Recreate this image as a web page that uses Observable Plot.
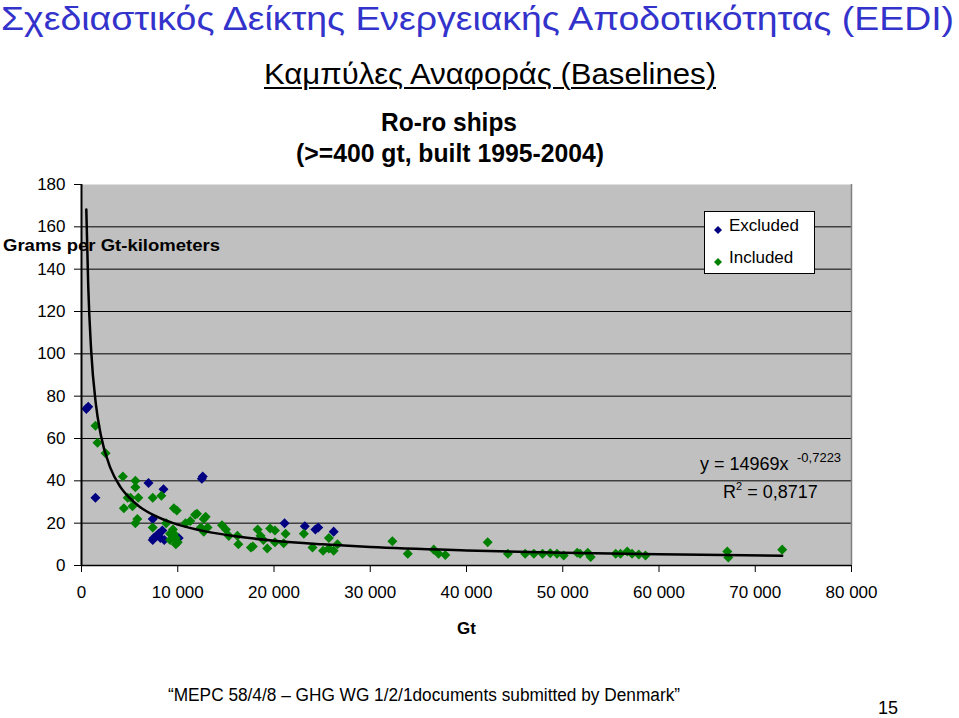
<!DOCTYPE html>
<html><head><meta charset="utf-8">
<script src="https://cdn.jsdelivr.net/npm/d3@7"></script>
<script src="https://cdn.jsdelivr.net/npm/@observablehq/plot@0.6"></script>
<style>
body{margin:0;background:#fff;font-family:"Liberation Sans",Arial,sans-serif;}
#page{position:relative;width:959px;height:718px;overflow:hidden;background:#fff;}
.abs{position:absolute;white-space:nowrap;line-height:1;transform-origin:0 0;}
#chart{position:absolute;left:0;top:100px;}
#legend{position:absolute;left:704px;top:211px;width:109px;height:61px;background:#fff;border:1px solid #000;}
</style></head><body><div id="page">
<div id="chart"></div>
<div id="title" class="abs" style="left:1px;top:4px;font-size:33px;line-height:0.9;color:#3333cc;">Σχεδιαστικός Δείκτης Ενεργειακής Αποδοτικότητας (EEDI)</div>
<div id="subtitle" class="abs" style="left:264px;top:59px;font-size:30px;color:#000;text-decoration:underline;text-decoration-thickness:2px;text-underline-offset:3px;">Καμπύλες Αναφοράς (Baselines)</div>
<div id="ct1" class="abs" style="left:381px;top:110px;font-size:25px;font-weight:bold;color:#000;">Ro-ro ships</div>
<div id="ct2" class="abs" style="left:296px;top:141px;font-size:25px;font-weight:bold;color:#000;">(&gt;=400 gt, built 1995-2004)</div>
<div id="ylab" class="abs" style="left:3px;top:236.5px;font-size:17px;font-weight:bold;color:#000;">Grams per Gt-kilometers</div>
<div id="xlab" class="abs" style="left:457px;top:620px;font-size:17px;font-weight:bold;color:#000;">Gt</div>
<div id="legend">
  <svg width="14" height="14" style="position:absolute;left:6px;top:11px"><path d="M7,3L11,7L7,11L3,7Z" fill="#000080"/></svg>
  <div class="abs" style="left:24px;top:5px;font-size:17px;">Excluded</div>
  <svg width="14" height="14" style="position:absolute;left:6px;top:43px"><path d="M7,3L11,7L7,11L3,7Z" fill="#008000"/></svg>
  <div class="abs" style="left:24px;top:37px;font-size:17px;">Included</div>
</div>
<div id="eq1" class="abs" style="left:700px;top:455px;font-size:18px;color:#000;">y = 14969x</div>
<div id="eq1s" class="abs" style="left:797px;top:451px;font-size:13px;color:#000;">-0,7223</div>
<div id="eq2" class="abs" style="left:723px;top:483px;font-size:18px;color:#000;">R<span style="font-size:11px;position:relative;top:-8px;">2</span> = 0,8717</div>
<div id="footer" class="abs" style="left:168px;top:686px;font-size:18px;color:#000;">“MEPC 58/4/8 – GHG WG 1/2/1documents submitted by Denmark”</div>
<div id="pnum" class="abs" style="left:878px;top:700px;font-size:18px;line-height:0.9;color:#000;">15</div>
</div>
<script>
// Data
const included = [
  [1450,66],[1660,58],[2500,53],
  [4300,42],[5600,40],[5600,37],[4800,32],[5100,32],[5900,32],[7400,32],[8300,33],
  [4400,27],[5300,28],[5800,22],[5600,20],[7400,18],[9200,15],[9600,27],[9900,26],
  [8800,20],[9600,15],[10000,11],[9800,13],[9200,12],[9500,17],[9800,10],
  [10800,20],[11300,21],[12000,24.5],[11800,24],[12900,23],[12400,18],[12700,16],[13100,18],[12700,22],
  [14600,19],[15000,17],[15300,14],[16200,14],[16300,10],[17600,8.5],[17800,9],
  [18300,17],[18600,14],[18900,12],[19300,8],[19600,17.5],[20100,16.5],[21200,15],
  [20100,11],[21000,10.5],[23100,15],[24000,8.5],[25100,7],[25700,13],[26200,7],[26600,10],[25700,8],
  [32300,11.5],[33900,5.5],[36600,7.5],[37100,5.5],[37800,5],[42200,11],
  [44300,5.5],[46100,5.5],[47000,5.5],[47900,5.5],[48700,5.8],[49400,5.5],[50100,4.7],[51500,6],[51800,5.5],[52600,6],[52900,4],
  [55500,5.5],[56000,5.5],[56700,6.6],[57200,5.5],[57900,5.2],[58600,4.7],[67100,6.6],[67200,3.8],[72800,7.5]
];
const excluded = [
  [500,74],[700,75],[1450,32],[6960,39],[8520,36],[12500,41],[12600,42],
  [7400,22],[7500,13],[8000,15],[8400,16.5],[8600,12],[7800,14],[7400,12],[8200,13],[10100,13],
  [21100,20],[23200,18.5],[24300,17],[24600,18],[26200,16]
];
const trendGt = [500,700,1000,1500,2000,3000,4000,5000,6000,8000,10000,13000,16000,20000,25000,30000,40000,50000,60000,72800];
const trendY  = [168.2,131.9,101.9,76.0,61.8,46.1,37.4,31.9,27.9,22.7,19.3,16.0,13.8,11.7,10.0,8.7,7.1,6.0,5.3,4.6];
const yTicks = [0,20,40,60,80,100,120,140,160,180];
const xTicks = [0,10000,20000,30000,40000,50000,60000,70000,80000];

const trend = trendGt.map((x,i)=>({x, y: trendY[i]}));
const inc = included.map(([x,y])=>({x,y}));
const exc = excluded.map(([x,y])=>({x,y}));
const diamond = {draw(ctx,size){const s=Math.sqrt(size/2);ctx.moveTo(0,-s);ctx.lineTo(s,0);ctx.lineTo(0,s);ctx.lineTo(-s,0);ctx.closePath();}};
const fmt = d => d3.format(",")(d).replace(/,/g," ");

const plot = Plot.plot({
  width: 959, height: 560,
  marginLeft: 81, marginRight: 108, marginTop: 84, marginBottom: 95,
  style: {fontFamily: "Liberation Sans, Arial, sans-serif", fontSize: "17px", background: "transparent", overflow: "visible"},
  x: {domain: [0, 80000]},
  y: {domain: [0, 180]},
  marks: [
    Plot.frame({fill: "#c0c0c0", stroke: null}),
    Plot.ruleY(yTicks.filter(d => d > 0 && d < 180), {stroke: "#000", strokeWidth: 1}),
    Plot.ruleX([80000], {stroke: "#808080", strokeWidth: 1.5}),
    Plot.axisY({ticks: yTicks, tickSize: 7, tickPadding: 9, fontSize: 17, label: null, tickFormat: d => d}),
    Plot.axisX({ticks: xTicks, tickSize: 7, tickPadding: 13, fontSize: 17, label: null, tickFormat: fmt}),
    Plot.dot(exc, {x: "x", y: "y", symbol: diamond, r: 4, fill: "#000080", stroke: null}),
    Plot.dot(inc, {x: "x", y: "y", symbol: diamond, r: 4, fill: "#008000", stroke: null}),
    Plot.line(trend, {x: "x", y: "y", stroke: "#000", strokeWidth: 2.5, curve: "monotone-x"}),
    Plot.ruleX([0], {stroke: "#000", strokeWidth: 2}),
    Plot.ruleY([0], {stroke: "#000", strokeWidth: 1.5})
  ]
});
document.getElementById("chart").appendChild(plot);

function fit(id, w){
  const el = document.getElementById(id);
  const r = el.getBoundingClientRect().width;
  if (r > 0) el.style.transform = `scaleX(${w / r})`;
}
fit("title", 953);
fit("subtitle", 452);
fit("ct1", 136);
fit("ct2", 308);
fit("ylab", 217);
fit("footer", 512);
</script>
</body></html>
